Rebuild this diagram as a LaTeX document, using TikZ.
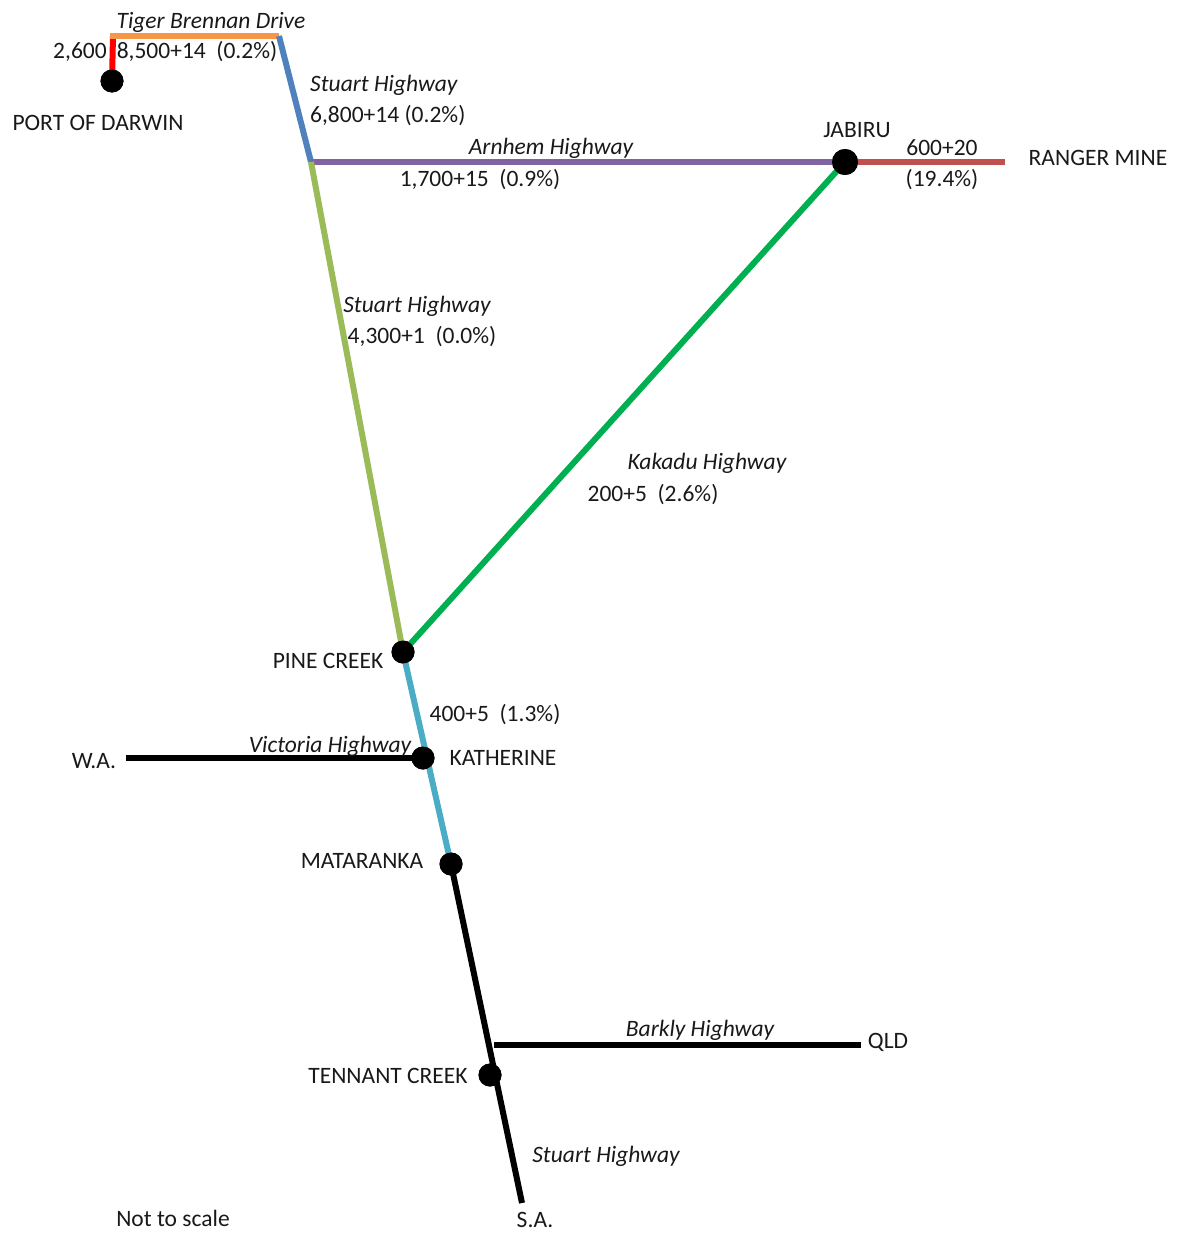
\documentclass[tikz,border=0pt]{standalone}
\usepackage{fontspec}
\setmainfont{Carlito}
\begin{document}
\begin{tikzpicture}[x=1pt,y=-1pt,
  lbl/.style={font=\fontsize{23.5}{28}\selectfont, inner sep=0pt, text=black!90},
  ilbl/.style={lbl, font=\fontsize{23.5}{28}\selectfont\itshape},
  dot/.style={circle, fill=black, inner sep=0pt, minimum size=#1},
  road/.style={line width=6pt},
]
\useasboundingbox (0,0) rectangle (1184,1234);
\definecolor{cRed}{HTML}{FF0000}
\definecolor{cOrange}{HTML}{F79646}
\definecolor{cBlue}{HTML}{4F81BD}
\definecolor{cPurple}{HTML}{8064A2}
\definecolor{cBrick}{HTML}{C0504D}
\definecolor{cOlive}{HTML}{9BBB59}
\definecolor{cGreen}{HTML}{00B050}
\definecolor{cAqua}{HTML}{4BACC6}

% junction coordinates
\coordinate (tbTop) at (113,36);
\coordinate (tbEnd) at (279,36);
\coordinate (arnJ) at (311,162);
\coordinate (rangerEnd) at (1005,162);
\coordinate (waEnd) at (126,758);
\coordinate (barklyJ) at (494,1045);
\coordinate (qldEnd) at (861,1045);
\coordinate (saEnd) at (522,1203);

% dots
\node[dot=23pt] (darwin) at (112,81) {};
\node[dot=26pt] (jabiru) at (845,162) {};
\node[dot=23pt] (pine) at (403,652) {};
\node[dot=23pt] (kath) at (423,758) {};
\node[dot=23pt] (mata) at (451,864) {};
\node[dot=23pt] (tenn) at (490,1075) {};

% roads
\draw[road, cRed] (darwin.center) -- (tbTop);
\draw[road, cOrange] ([xshift=-3pt]tbTop) -- (tbEnd);
\draw[road, cBlue] (tbEnd) -- (arnJ);
\draw[road, cPurple] (arnJ) -- (jabiru.center);
\draw[road, cBrick] (jabiru.center) -- (rangerEnd);
\draw[road, cOlive] (arnJ) -- (pine.center);
\draw[road, cGreen] (pine.center) -- (jabiru.center);
\draw[road, cAqua] (pine.center) -- (mata.center);
\draw[road, black] (waEnd) -- (kath.center);
\draw[road, black] (mata.center) -- (saEnd);
\draw[road, black] (barklyJ) -- (qldEnd);

% redraw dots on top
\node[dot=23pt] at (darwin) {};
\node[dot=26pt] at (jabiru) {};
\node[dot=23pt] at (pine) {};
\node[dot=23pt] at (kath) {};
\node[dot=23pt] at (mata) {};
\node[dot=23pt] at (tenn) {};

% labels
\node[ilbl] (l1) at (211,22) {Tiger Brennan Drive};
\node[lbl] (l2) at (80,52) {2,600};
\node[lbl] (l3) at (197,52) {8,500+14\ \ (0.2\%)};
\node[lbl] (l4) at (98,123) {PORT OF DARWIN};
\node[ilbl, anchor=west] (l5) at (310,85) {Stuart Highway};
\node[lbl, anchor=west] (l6) at (310,116) {6,800+14 (0.2\%)};
\node[ilbl] (l7) at (551,148) {Arnhem Highway};
\node[lbl] (l8) at (480,180) {1,700+15\ \ (0.9\%)};
\node[lbl] (l9) at (857,130) {JABIRU};
\node[lbl] (l10) at (942,148) {600+20};
\node[lbl] (l11) at (942,180) {(19.4\%)};
\node[lbl] (l12) at (1098,158) {RANGER MINE};
\node[ilbl] (l13) at (417,306) {Stuart Highway};
\node[lbl] (l14) at (422,337) {4,300+1\ \ (0.0\%)};
\node[ilbl] (l15) at (707,463) {Kakadu Highway};
\node[lbl] (l16) at (653,495) {200+5\ \ (2.6\%)};
\node[lbl] (l17) at (328,661) {PINE CREEK};
\node[lbl] (l18) at (495,715) {400+5\ \ (1.3\%)};
\node[ilbl] (l19) at (330,746) {Victoria Highway};
\node[lbl] (l20) at (503,758) {KATHERINE};
\node[lbl] (l21) at (94,761) {W.A.};
\node[lbl] (l22) at (362,861) {MATARANKA};
\node[ilbl] (l23) at (700,1030) {Barkly Highway};
\node[lbl] (l24) at (888,1042) {QLD};
\node[lbl] (l25) at (388,1076) {TENNANT CREEK};
\node[ilbl] (l26) at (606,1156) {Stuart Highway};
\node[lbl] (l27) at (535,1220) {S.A.};
\node[lbl] (l28) at (173,1218) {Not to scale};
\end{tikzpicture}
\end{document}
